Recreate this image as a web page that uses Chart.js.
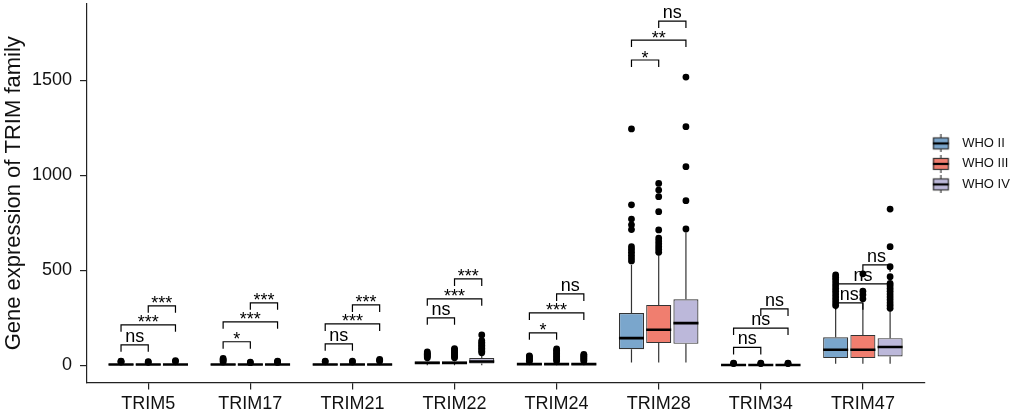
<!DOCTYPE html>
<html><head><meta charset="utf-8">
<script src="https://cdn.jsdelivr.net/npm/chart.js@4/dist/chart.umd.min.js"></script>
<style>html,body{margin:0;padding:0;background:#fff}#wrap{width:1020px;height:415px;position:relative}</style>
</head><body><div id="wrap"><canvas id="c"></canvas></div>
<script>
// ---------------- data ----------------
const categories = ['TRIM5','TRIM17','TRIM21','TRIM22','TRIM24','TRIM28','TRIM34','TRIM47'];
const groupNames = ['WHO II','WHO III','WHO IV'];

// WHO II
const lowII  = [0, 0, 0, 0, 0, 15, 0, 8];
const q1II   = [2, 2, 2, 8, 2, 85, 0.5, 38];
const medII  = [4, 4, 4, 13, 6, 143, 1.5, 82];
const q3II   = [7, 7, 8, 20, 11, 275, 3, 148];
const highII = [13, 14, 16, 36, 18, 530, 6, 300];
const outII  = [[17,20,22],[18,24,30,36],[19,22],[40,46,52,58,64,70],[21,27,33,39,45,50],
  [550,565,580,595,610,625,715,740,770,845,1245],[9,11],[315,330,345,360,375,390,405,420,435,450,463,476]];

// WHO III
const lowIII  = [0, 0, 0, 0, 0, 15, 0, 8];
const q1III   = [2, 2, 2, 8, 2, 117, 0.5, 38];
const medIII  = [4, 4, 4, 13, 6, 187, 1.5, 82];
const q3III   = [7, 7, 8, 20, 11, 318, 3, 160];
const highIII = [13, 12, 16, 36, 18, 580, 6, 327];
const outIII  = [[16,19],[14,17],[18,22],[40,47,54,61,68,75,82,88],[22,30,38,46,54,62,70,78,86],
  [595,610,625,640,655,670,713,809,888,923,958],[9,11],[350,372,390,482]];

// WHO IV
const lowIV  = [0, 0, 0, 0, 0, 15, 0, 8];
const q1IV   = [2, 2, 2, 10, 2, 113, 0.5, 46];
const medIV  = [4, 4, 4, 20, 6, 222, 1.5, 96];
const q3IV   = [7, 7, 8, 38, 11, 348, 3, 143];
const highIV = [14, 12, 16, 58, 18, 700, 6, 290];
const outIV  = [[20,25],[15,19,22],[22,27,31],[66,74,82,90,98,106,114,122,130,160],[22,28,34,40,46,52,58],
  [718,867,1046,1257,1518],[9,11],[300,315,330,345,360,375,390,405,420,432,467,519,625,823]];

// significance brackets (height in data units) and labels
const bracket12Y = [108, 124, 113, 250, 171, 1608, 94, 329];
const bracket13Y = [213, 229, 218, 350, 276, 1713, 196, 429];
const bracket23Y = [313, 329, 318, 455, 376, 1813, 297, 529];
const sig12 = ['ns','*','ns','ns','*','*','ns','ns'];
const sig13 = ['***','***','***','***','***','**','ns','ns'];
const sig23 = ['***','***','***','***','ns','ns','ns','ns'];

const yTicks = [0, 500, 1000, 1500];

// ---------------- styling ----------------
const FONT = "'Liberation Sans', Arial, sans-serif";
Chart.defaults.font.family = FONT;
Chart.defaults.color = '#111';
const fills = ['#7aa6cc', '#f07e6f', '#bcb8da'];
const CAT_PCT = 0.8, BAR_PCT = 0.92;
const DODGE = CAT_PCT / 3;
const HALF = DODGE * BAR_PCT / 2;

const groups = [
  {lo: lowII, q1: q1II, med: medII, q3: q3II, hi: highII, out: outII},
  {lo: lowIII, q1: q1III, med: medIII, q3: q3III, hi: highIII, out: outIII},
  {lo: lowIV, q1: q1IV, med: medIV, q3: q3IV, hi: highIV, out: outIV}
];

const datasets = [];
groups.forEach((g, k) => {
  datasets.push({
    type: 'bar', label: groupNames[k],
    data: categories.map((c, i) => ({x: i + 1, y: [g.q1[i], g.q3[i]]})),
    backgroundColor: fills[k], borderColor: '#333', borderWidth: 1.2, borderSkipped: false,
    categoryPercentage: CAT_PCT, barPercentage: BAR_PCT, order: 2
  });
});
groups.forEach((g, k) => {
  const off = (k - 1) * DODGE;
  datasets.push({
    type: 'line', label: 'whisker' + k,
    data: categories.flatMap((c, i) => [
      {x: i + 1 + off, y: g.lo[i]}, {x: i + 1 + off, y: g.q1[i]}, {x: i + 1 + off, y: null},
      {x: i + 1 + off, y: g.q3[i]}, {x: i + 1 + off, y: g.hi[i]}, {x: i + 1 + off, y: null}]),
    borderColor: '#333', borderWidth: 1.2, pointRadius: 0, spanGaps: false, tension: 0, fill: false, order: 3
  });
  datasets.push({
    type: 'line', label: 'median' + k,
    data: categories.flatMap((c, i) => [
      {x: i + 1 + off - HALF, y: g.med[i]}, {x: i + 1 + off + HALF, y: g.med[i]}, {x: i + 1 + off, y: null}]),
    borderColor: '#000', borderWidth: 2.6, pointRadius: 0, spanGaps: false, tension: 0, fill: false, order: 0
  });
  datasets.push({
    type: 'scatter', label: 'outlier' + k,
    data: categories.flatMap((c, i) => g.out[i].map(v => ({x: i + 1 + off, y: v}))),
    pointRadius: 3.4, pointBackgroundColor: '#000', pointBorderWidth: 0, pointHoverRadius: 3.4, order: 1
  });
});

// legend icons (boxplot keys)
function makeIcon(color) {
  const cv = document.createElement('canvas');
  cv.width = 24; cv.height = 18;
  const c = cv.getContext('2d');
  const x0 = 1.2, w = 16, cx = x0 + w / 2;
  c.strokeStyle = '#333'; c.lineWidth = 1.2;
  c.beginPath(); c.moveTo(cx, 0); c.lineTo(cx, 3.5); c.moveTo(cx, 14.5); c.lineTo(cx, 18); c.stroke();
  c.fillStyle = color; c.fillRect(x0, 3.5, w, 11);
  c.strokeRect(x0 + 0.6, 3.5, w - 1.2, 11);
  c.strokeStyle = '#000'; c.lineWidth = 2.2;
  c.beginPath(); c.moveTo(x0, 9); c.lineTo(x0 + w, 9); c.stroke();
  return cv;
}
const icons = fills.map(makeIcon);

const bracketPlugin = {
  id: 'brackets',
  afterDatasetsDraw(chart) {
    const {ctx, scales: {x, y}} = chart;
    const TICK = 7;
    ctx.save();
    ctx.strokeStyle = '#000'; ctx.lineWidth = 1.2; ctx.fillStyle = '#000';
    ctx.font = '18px ' + FONT; ctx.textAlign = 'center'; ctx.textBaseline = 'alphabetic';
    const pairs = [[0, 1, bracket12Y, sig12], [0, 2, bracket13Y, sig13], [1, 2, bracket23Y, sig23]];
    categories.forEach((c, i) => {
      pairs.forEach(([a, b, ys, labs]) => {
        const xa = x.getPixelForValue(i + 1 + (a - 1) * DODGE);
        const xb = x.getPixelForValue(i + 1 + (b - 1) * DODGE);
        const yp = y.getPixelForValue(ys[i]);
        ctx.beginPath();
        ctx.moveTo(xa, yp + TICK); ctx.lineTo(xa, yp); ctx.lineTo(xb, yp); ctx.lineTo(xb, yp + TICK);
        ctx.stroke();
        const lab = labs[i];
        ctx.fillText(lab, (xa + xb) / 2, lab === 'ns' ? yp - 3 : yp + 3.5);
      });
    });
    ctx.restore();
  }
};

new Chart(document.getElementById('c'), {
  type: 'bar',
  data: {datasets},
  plugins: [bracketPlugin],
  options: {
    responsive: true, maintainAspectRatio: false, animation: false,
    layout: {padding: {top: 4, right: 0.2, bottom: 3, left: 0}},
    plugins: {
      tooltip: {enabled: false},
      legend: {
        position: 'right', align: 'start',
        title: {display: true, text: '', font: {size: 12}, padding: {top: 111, bottom: 0}},
        labels: {
          usePointStyle: true, pointStyleWidth: 24, padding: 7.5,
          font: {size: 13}, color: '#111',
          generateLabels(chart) {
            return Chart.defaults.plugins.legend.labels.generateLabels(chart)
              .filter(l => l.datasetIndex < 3)
              .map(l => Object.assign(l, {pointStyle: icons[l.datasetIndex]}));
          }
        }
      }
    },
    scales: {
      x: {
        type: 'linear', min: 0.4, max: 8.6, offset: false,
        afterBuildTicks(s) { s.ticks = categories.map((c, i) => ({value: i + 1})); },
        afterFit(s) { s.height = 29.5; s.paddingLeft = 0; s.paddingRight = 0; },
        ticks: {autoSkip: false, maxRotation: 0, padding: 4, font: {size: 18}, color: '#111',
          callback: v => categories[Math.round(v) - 1]},
        grid: {display: true, offset: false, drawOnChartArea: false, drawTicks: true, tickLength: 7, color: '#222', lineWidth: 1.2},
        border: {display: true, color: '#222', width: 1.2}
      },
      y: {
        type: 'linear', min: -90.6, max: 1903,
        afterBuildTicks(s) { s.ticks = yTicks.map(v => ({value: v})); },
        afterFit(s) { s.width = 87; s.paddingTop = 0; s.paddingBottom = 0; },
        ticks: {padding: 8, font: {size: 18}, color: '#111', callback: v => String(v)},
        grid: {display: true, drawOnChartArea: false, drawTicks: true, tickLength: 7, color: '#222', lineWidth: 1.2},
        border: {display: true, color: '#222', width: 1.2},
        title: {display: true, text: 'Gene expression of TRIM family', font: {size: 22}, color: '#111', padding: {top: 1, bottom: 0}}
      }
    }
  }
});
</script>
</body></html>
